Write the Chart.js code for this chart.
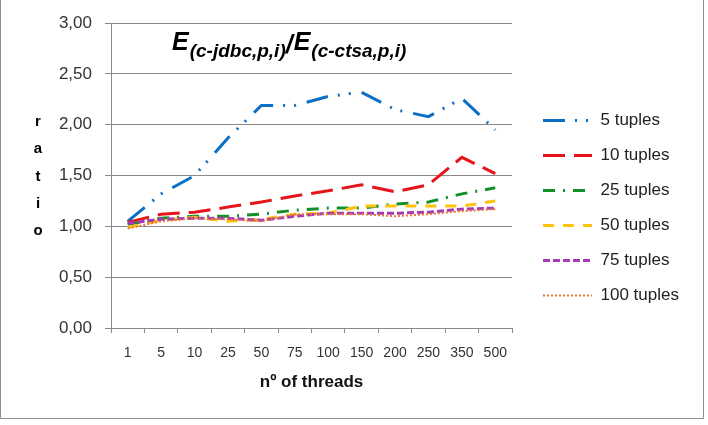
<!DOCTYPE html>
<html>
<head>
<meta charset="utf-8">
<script src="https://cdn.jsdelivr.net/npm/chart.js@4.4.1/dist/chart.umd.min.js"></script>
<style>
  html, body { margin: 0; padding: 0; background: #fff; }
  #wrap { width: 708px; height: 425px; }
</style>
</head>
<body>
<div id="wrap"><canvas id="c" width="708" height="425"></canvas></div>
<script>
// ---- data ----
const categories = ['1', '5', '10', '25', '50', '75', '100', '150', '200', '250', '350', '500'];
const seriesNames = ['5 tuples', '10 tuples', '25 tuples', '50 tuples', '75 tuples', '100 tuples'];
const tuples5   = [1.05, 1.32, 1.50, 1.87, 2.19, 2.19, 2.28, 2.32, 2.15, 2.08, 2.26, 1.95];
const tuples10  = [1.04, 1.12, 1.14, 1.19, 1.24, 1.30, 1.35, 1.41, 1.34, 1.41, 1.68, 1.52];
const tuples25  = [1.02, 1.08, 1.10, 1.10, 1.12, 1.16, 1.18, 1.18, 1.22, 1.24, 1.32, 1.38];
const tuples50  = [0.99, 1.06, 1.09, 1.05, 1.07, 1.12, 1.13, 1.20, 1.20, 1.20, 1.20, 1.25];
const tuples75  = [1.03, 1.07, 1.08, 1.08, 1.06, 1.10, 1.13, 1.13, 1.13, 1.14, 1.17, 1.18];
const tuples100 = [0.98, 1.05, 1.08, 1.07, 1.05, 1.12, 1.12, 1.12, 1.10, 1.12, 1.15, 1.17];
const yTickValues = [0, 0.5, 1, 1.5, 2, 2.5, 3];
const xAxisTitle = 'nº of threads';
const yAxisTitle = 'ratio';
const titleParts = ['E', '(c-jdbc,p,i)', '/', 'E', '(c-ctsa,p,i)'];

// ---- styles ----
const FONT = "'Liberation Sans', Arial, sans-serif";
const GRID = '#8a8a8a';
const LEGEND_FONT_SIZE = 17;
const LEGEND_PAD = 18;
const LEGEND_BOX = 49;
const LEGEND_LEFT = 525;
const styles = [
  { color: '#0b6fc3', dash: [22, 10, 2, 9, 2, 11], width: 3 },
  { color: '#e8141b', dash: [22, 9], width: 3 },
  { color: '#14902a', dash: [12, 8, 2, 8], width: 3 },
  { color: '#ffc20e', dash: [11, 9], width: 3 },
  { color: '#a63ab4', dash: [7, 3], width: 3 },
  { color: '#e8763a', dash: [2, 2], width: 2 }
];
const seriesValues = [tuples5, tuples10, tuples25, tuples50, tuples75, tuples100];

// legend width as Chart.js computes it, so that the legend starts where the reference's does
const mctx = document.createElement('canvas').getContext('2d');
mctx.font = LEGEND_FONT_SIZE + 'px ' + FONT;
const maxTextW = Math.max(...seriesNames.map(n => mctx.measureText(n).width));
const legendWidth = LEGEND_PAD + LEGEND_BOX + LEGEND_FONT_SIZE / 2 + maxTextW + 10;
const rightPad = Math.max(0, 708 - LEGEND_LEFT - legendWidth);

const datasets = seriesNames.map((name, i) => ({
  label: name,
  data: seriesValues[i],
  borderColor: styles[i].color,
  backgroundColor: styles[i].color,
  borderDash: styles[i].dash,
  borderWidth: styles[i].width,
  borderCapStyle: 'butt',
  pointRadius: 0,
  pointHoverRadius: 0,
  tension: 0,
  fill: false,
  order: seriesNames.length - i
}));

const framePlugin = {
  id: 'frame',
  beforeDraw(chart) {
    const ctx = chart.ctx;
    ctx.save();
    ctx.fillStyle = '#fff';
    ctx.fillRect(0, 0, chart.width, chart.height);
    ctx.strokeStyle = '#8c8c8c';
    ctx.lineWidth = 1;
    ctx.beginPath();
    ctx.moveTo(0.5, 0);
    ctx.lineTo(0.5, 418.5);
    ctx.lineTo(703.5, 418.5);
    ctx.lineTo(703.5, 0);
    ctx.stroke();
    ctx.restore();
  }
};

const textPlugin = {
  id: 'texts',
  afterDraw(chart) {
    const ctx = chart.ctx;
    const area = chart.chartArea;
    ctx.save();
    // chart title with subscripts
    const big = 'italic bold 25px ' + FONT;
    const small = 'italic bold 19px ' + FONT;
    let x = area.left + 61;
    const baseBig = area.top + 27;
    const baseSmall = area.top + 34;
    ctx.fillStyle = '#000';
    ctx.textAlign = 'left';
    ctx.textBaseline = 'alphabetic';
    titleParts.forEach((part) => {
      const isSub = part.startsWith('(');
      ctx.font = isSub ? small : big;
      const y = isSub ? baseSmall : (part === '/' ? baseBig + 3 : baseBig);
      ctx.fillText(part, x, y);
      x += ctx.measureText(part).width + (isSub ? 0 : 1);
    });
    // stacked y-axis title
    ctx.font = 'bold 15px ' + FONT;
    ctx.textAlign = 'center';
    ctx.textBaseline = 'middle';
    yAxisTitle.split('').forEach((ch, i) => {
      ctx.fillText(ch, 38, 122 + i * 27.3);
    });
    ctx.restore();
  }
};

function legendLabels(chart) {
  return chart.data.datasets.map((ds, i) => ({
    text: ds.label,
    fillStyle: ds.borderColor,
    strokeStyle: ds.borderColor,
    lineDash: ds.borderDash,
    lineWidth: ds.borderWidth,
    lineCap: 'butt',
    pointStyle: 'line',
    rotation: 180,
    fontColor: '#222',
    hidden: false,
    datasetIndex: i
  }));
}

new Chart(document.getElementById('c'), {
  type: 'line',
  data: { labels: categories, datasets: datasets },
  plugins: [framePlugin, textPlugin],
  options: {
    responsive: false,
    devicePixelRatio: 1,
    animation: false,
    events: [],
    layout: { padding: { left: 0, top: 20, right: rightPad, bottom: 29 } },
    plugins: {
      title: { display: false },
      tooltip: { enabled: false },
      legend: {
        display: true,
        position: 'right',
        align: 'center',
        maxWidth: legendWidth + 0.5,
        labels: {
          usePointStyle: true,
          pointStyle: 'line',
          pointStyleWidth: LEGEND_BOX,
          padding: LEGEND_PAD,
          color: '#222',
          font: { family: FONT, size: LEGEND_FONT_SIZE },
          generateLabels: legendLabels
        }
      }
    },
    scales: {
      x: {
        type: 'category',
        offset: true,
        grid: { offset: true, drawOnChartArea: false, drawTicks: true, tickLength: 5, color: GRID },
        border: { display: true, color: GRID, width: 1 },
        ticks: { font: { family: FONT, size: 14 }, color: '#333', padding: 12, maxRotation: 0, autoSkip: false },
        title: { display: true, text: xAxisTitle, color: '#111', font: { family: FONT, size: 17, weight: 'bold' }, padding: { top: 0, bottom: 3 } },
        afterFit(s) { s.height = 68; }
      },
      y: {
        type: 'linear',
        position: 'left',
        min: 0,
        max: 3,
        afterBuildTicks(s) { s.ticks = yTickValues.map(v => ({ value: v })); },
        ticks: {
          font: { family: FONT, size: 17 },
          color: '#333',
          padding: 13,
          callback: v => Number(v).toFixed(2).replace('.', ',')
        },
        grid: { color: GRID, lineWidth: 1, drawTicks: true, tickLength: 6, tickColor: GRID },
        border: { display: true, color: GRID, width: 1 },
        afterFit(s) { s.width = 111; }
      },
      y2: {
        type: 'linear',
        position: 'right',
        display: true,
        grid: { display: false, drawTicks: false },
        border: { display: false },
        ticks: { display: false },
        afterFit(s) { s.width = 13; }
      }
    }
  }
});
</script>
</body>
</html>
